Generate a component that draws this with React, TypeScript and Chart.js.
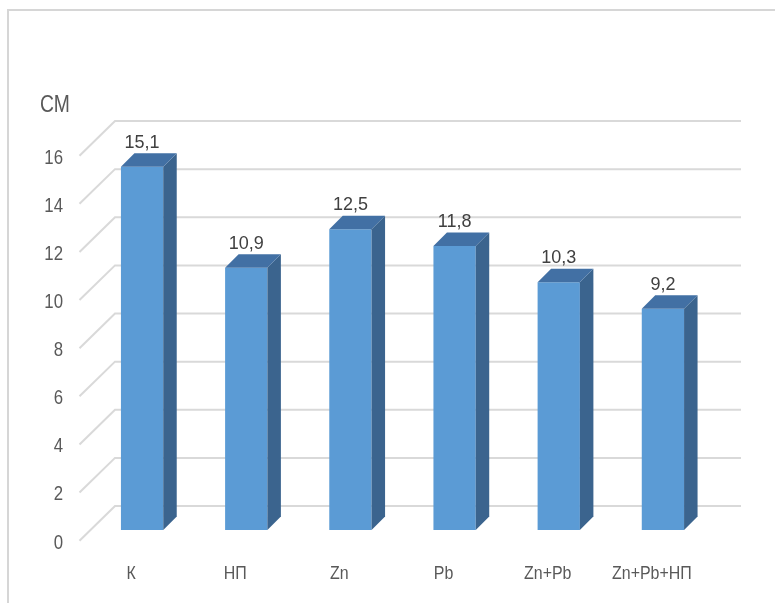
import React, { useEffect, useRef } from "react";
import { Chart, registerables } from "chart.js";

Chart.register(...registerables);

const categories = ["К", "НП", "Zn", "Pb", "Zn+Pb", "Zn+Pb+НП"];
const values = [15.1, 10.9, 12.5, 11.8, 10.3, 9.2];
const yTickStep = 2;
const yMin = 0;
const yMax = 16;
const axisUnit = "СМ";

const FRONT = "rgb(91,155,213)";
const SIDE = "rgb(59,100,142)";
const TOP = "rgb(66,112,164)";
const GRID = "#d9d9d9";
const TEXT = "#595959";
const REGULAR = "'Liberation Sans', Arial, sans-serif";
const SQUEEZE = 0.84;

const DEPTH = 13.5;

function squeezedText(ctx: any, text: string, x: number, y: number, align: string) {
  ctx.save();
  ctx.translate(x, y);
  ctx.scale(SQUEEZE, 1);
  ctx.textAlign = align;
  ctx.textBaseline = "middle";
  ctx.fillText(text, 0, 0);
  ctx.restore();
}

const threeD = {
  id: "threeD",
  beforeDraw(chart: any) {
    const { ctx } = chart;
    ctx.save();
    ctx.fillStyle = "#ffffff";
    ctx.fillRect(0, 0, chart.width, chart.height);
    ctx.strokeStyle = "#d6d6d6";
    ctx.lineWidth = 2;
    ctx.beginPath();
    ctx.moveTo(8, chart.height);
    ctx.lineTo(8, 10);
    ctx.lineTo(chart.width, 10);
    ctx.stroke();
    ctx.restore();
  },
  beforeDatasetsDraw(chart: any) {
    const { ctx } = chart;
    const ys = chart.scales.y;
    ctx.save();
    ctx.strokeStyle = GRID;
    ctx.lineWidth = 2;
    for (let v = yMin; v <= yMax; v += yTickStep) {
      const py = ys.getPixelForValue(v);
      ctx.beginPath();
      ctx.moveTo(79.5, py + 10.7);
      ctx.lineTo(115, py - 24);
      ctx.lineTo(741, py - 24);
      ctx.stroke();
    }
    ctx.restore();
  },
  afterDatasetsDraw(chart: any) {
    const { ctx } = chart;
    const meta = chart.getDatasetMeta(0);
    ctx.save();
    meta.data.forEach((el: any, i: number) => {
      const { x, y, base, width } = el.getProps(["x", "y", "base", "width"], true);
      const l = x - width / 2;
      const r = x + width / 2;
      ctx.fillStyle = SIDE;
      ctx.beginPath();
      ctx.moveTo(r, y);
      ctx.lineTo(r + DEPTH, y - DEPTH);
      ctx.lineTo(r + DEPTH, base - DEPTH);
      ctx.lineTo(r, base);
      ctx.closePath();
      ctx.fill();
      ctx.fillStyle = TOP;
      ctx.beginPath();
      ctx.moveTo(l, y);
      ctx.lineTo(l + DEPTH, y - DEPTH);
      ctx.lineTo(r + DEPTH, y - DEPTH);
      ctx.lineTo(r, y);
      ctx.closePath();
      ctx.fill();
      ctx.fillStyle = "#404040";
      ctx.font = `18px ${REGULAR}`;
      ctx.textAlign = "center";
      ctx.textBaseline = "middle";
      ctx.fillText(String(values[i]).replace(".", ","), x, y - 24);
    });
    ctx.restore();
  },
  afterDraw(chart: any) {
    const { ctx } = chart;
    const xs = chart.scales.x;
    const ys = chart.scales.y;
    ctx.save();
    ctx.fillStyle = TEXT;
    ctx.font = `19px ${REGULAR}`;
    xs.ticks.forEach((t: any, i: number) => {
      const label = String(xs.getLabelForValue(t.value));
      squeezedText(ctx, label, xs.getPixelForTick(i) - 11, 574, "center");
    });
    ctx.font = `20px ${REGULAR}`;
    ys.ticks.forEach((t: any, i: number) => {
      squeezedText(ctx, String(t.value), 63, ys.getPixelForTick(i) + 13, "right");
    });
    ctx.font = `23px ${REGULAR}`;
    squeezedText(ctx, axisUnit, 55, 106, "center");
    ctx.restore();
  },
};

export default function App() {
  const ref = useRef<HTMLCanvasElement | null>(null);
  useEffect(() => {
    if (!ref.current) return;
    const chart = new Chart(ref.current, {
      type: "bar",
      data: {
        labels: categories,
        datasets: [
          {
            data: values,
            backgroundColor: FRONT,
            barPercentage: 0.406,
            categoryPercentage: 1,
          },
        ],
      },
      options: {
        responsive: false,
        animation: false,
        layout: { padding: { top: 145, right: 60, left: 0, bottom: 0 } },
        plugins: { legend: { display: false }, tooltip: { enabled: false } },
        scales: {
          x: {
            grid: { display: false, drawTicks: false },
            border: { display: false },
            ticks: { display: false, autoSkip: false, maxRotation: 0 },
            afterFit: (s: any) => {
              s.height = 73;
            },
          },
          y: {
            min: yMin,
            max: yMax,
            ticks: { stepSize: yTickStep, display: false },
            grid: { display: false, drawTicks: false },
            border: { display: false },
            afterFit: (s: any) => {
              s.width = 90;
            },
          },
        },
      },
      plugins: [threeD],
    } as any);
    return () => chart.destroy();
  }, []);
  return (
    <div style={{ position: "fixed", left: 0, top: 0, width: 775, height: 603 }}>
      <canvas ref={ref} width={775} height={603} style={{ display: "block" }} />
    </div>
  );
}
